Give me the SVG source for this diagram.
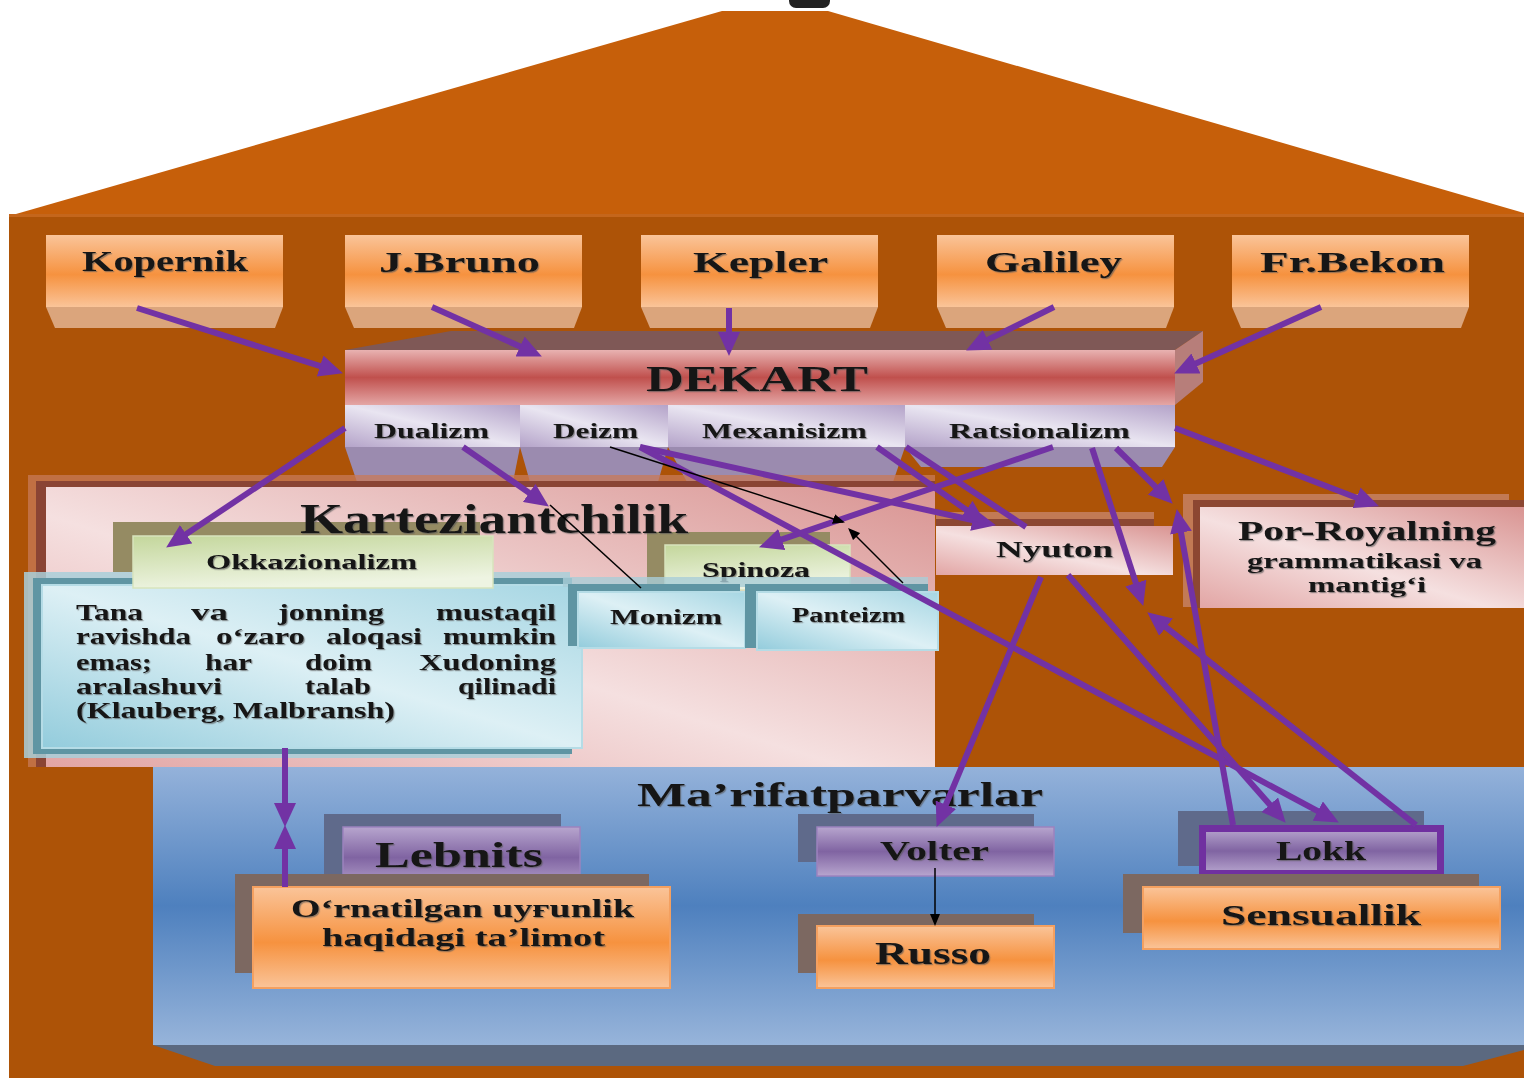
<svg xmlns="http://www.w3.org/2000/svg" width="1524" height="1078" viewBox="0 0 1524 1078">
<defs>
<style>
.t{font-family:"Liberation Serif","DejaVu Serif",serif;font-weight:bold;fill:#141414;text-anchor:middle}
.w{font-family:"Liberation Serif","DejaVu Serif",serif;font-weight:bold;fill:#141414;font-size:23px}
.pc{stroke:#7232A4;stroke-width:6;fill:none}
.bc{stroke:#000;stroke-width:1.5;fill:none}
.sh{filter:url(#ts)}
</style>
<filter id="ts" x="-5%" y="-20%" width="110%" height="140%">
<feDropShadow dx="1.2" dy="1.2" stdDeviation="0.6" flood-color="#555" flood-opacity="0.6"/>
</filter>
<linearGradient id="gOr" x1="0" y1="0" x2="0" y2="1">
<stop offset="0" stop-color="#FAC499"/><stop offset="0.55" stop-color="#F6923F"/><stop offset="1" stop-color="#FAC499"/>
</linearGradient>
<linearGradient id="gRed" x1="0" y1="0" x2="0" y2="1">
<stop offset="0" stop-color="#E8B2B1"/><stop offset="0.5" stop-color="#C0504D"/><stop offset="1" stop-color="#E4A6A5"/>
</linearGradient>
<linearGradient id="gLav" x1="0" y1="1" x2="1" y2="0">
<stop offset="0" stop-color="#B4A3C9"/><stop offset="0.5" stop-color="#E9E5F1"/><stop offset="1" stop-color="#B4A3C9"/>
</linearGradient>
<linearGradient id="gPur" x1="0" y1="0" x2="0" y2="1">
<stop offset="0" stop-color="#B7A5CE"/><stop offset="0.5" stop-color="#8064A2"/><stop offset="1" stop-color="#B7A5CE"/>
</linearGradient>
<linearGradient id="gBl" x1="0" y1="1" x2="1" y2="0">
<stop offset="0" stop-color="#93CCDC"/><stop offset="0.5" stop-color="#DDF0F5"/><stop offset="1" stop-color="#A6D6E3"/>
</linearGradient>
<linearGradient id="gGr" x1="0" y1="0" x2="0.3" y2="1">
<stop offset="0" stop-color="#C4D79C"/><stop offset="1" stop-color="#EEF4E2"/>
</linearGradient>
<linearGradient id="gPk" x1="0" y1="1" x2="1" y2="0">
<stop offset="0" stop-color="#E2A5A4"/><stop offset="0.45" stop-color="#F5E0E0"/><stop offset="1" stop-color="#D99492"/>
</linearGradient>
<linearGradient id="gPanel" x1="0" y1="0" x2="0" y2="1">
<stop offset="0" stop-color="#94B2DA"/><stop offset="0.5" stop-color="#4E80BE"/><stop offset="1" stop-color="#97B4DA"/>
</linearGradient>
<marker id="ap" markerUnits="userSpaceOnUse" markerWidth="24" markerHeight="22" viewBox="0 0 24 22" refX="16" refY="11" orient="auto">
<path d="M0,0 L24,11 L0,22 z" fill="#7232A4"/>
</marker>
<marker id="ab" markerUnits="userSpaceOnUse" markerWidth="12" markerHeight="10" viewBox="0 0 12 10" refX="10" refY="5" orient="auto">
<path d="M0,0 L12,5 L0,10 z" fill="#000"/>
</marker>
</defs>

<rect width="1524" height="1078" fill="#ffffff"/>

<g id="house">
<polygon points="9,216 722,11 828,11 1524,213 1524,216" fill="#C65F0A"/>
<rect x="9" y="215" width="1515" height="863" fill="#AD5307"/>
<rect x="9" y="214" width="1515" height="3" fill="#C4661C"/>
<rect x="789" y="-12" width="41" height="20" rx="7" fill="#222"/>
</g>

<g id="kopernik">
<polygon points="46,307 283,307 275,328 55,328" fill="#DBA57C"/>
<rect x="46" y="235" width="237" height="72" fill="url(#gOr)"/>
<text class="t sh" x="165" y="271" font-size="30" textLength="166" lengthAdjust="spacingAndGlyphs">Kopernik</text>
</g>
<g id="jbruno">
<polygon points="345,307 582,307 574,328 354,328" fill="#DBA57C"/>
<rect x="345" y="235" width="237" height="72" fill="url(#gOr)"/>
<text class="t sh" x="459.5" y="272" font-size="30" textLength="161" lengthAdjust="spacingAndGlyphs">J.Bruno</text>
</g>
<g id="kepler">
<polygon points="641,307 878,307 870,328 650,328" fill="#DBA57C"/>
<rect x="641" y="235" width="237" height="72" fill="url(#gOr)"/>
<text class="t sh" x="760.5" y="272" font-size="30" textLength="135" lengthAdjust="spacingAndGlyphs">Kepler</text>
</g>
<g id="galiley">
<polygon points="937,307 1174,307 1166,328 946,328" fill="#DBA57C"/>
<rect x="937" y="235" width="237" height="72" fill="url(#gOr)"/>
<text class="t sh" x="1053.5" y="272" font-size="30" textLength="137" lengthAdjust="spacingAndGlyphs">Galiley</text>
</g>
<g id="frbekon">
<polygon points="1232,307 1469,307 1461,328 1241,328" fill="#DBA57C"/>
<rect x="1232" y="235" width="237" height="72" fill="url(#gOr)"/>
<text class="t sh" x="1352.5" y="272" font-size="30" textLength="185" lengthAdjust="spacingAndGlyphs">Fr.Bekon</text>
</g>

<g id="dekart">
<polygon points="345,350 451,331 1203,331 1175,350" fill="#7F5856"/>
<polygon points="1175,350 1203,331 1203,382 1175,405" fill="#B77E7A"/>
<rect x="345" y="350" width="830" height="55" fill="url(#gRed)"/>
<text class="t sh" x="757" y="391" font-size="36" textLength="222" lengthAdjust="spacingAndGlyphs">DEKART</text>
</g>
<g id="dualizm">
<polygon points="345,447 520,447 513,482 357,482" fill="#9B8BAF"/>
<rect x="345" y="405" width="175" height="42" fill="url(#gLav)"/>
<text class="t sh" x="431.5" y="438" font-size="22" textLength="115" lengthAdjust="spacingAndGlyphs">Dualizm</text>
</g>
<g id="deizm">
<polygon points="520,447 668,447 658,482 530,482" fill="#9B8BAF"/>
<rect x="520" y="405" width="148" height="42" fill="url(#gLav)"/>
<text class="t sh" x="595.5" y="438" font-size="22" textLength="85" lengthAdjust="spacingAndGlyphs">Deizm</text>
</g>
<g id="mexanisizm">
<polygon points="668,447 905,447 893,482 687,482" fill="#9B8BAF"/>
<rect x="668" y="405" width="237" height="42" fill="url(#gLav)"/>
<text class="t sh" x="784.5" y="438" font-size="22" textLength="165" lengthAdjust="spacingAndGlyphs">Mexanisizm</text>
</g>
<g id="ratsionalizm">
<polygon points="905,447 1175,447 1162,467 921,467" fill="#9B8BAF"/>
<rect x="905" y="405" width="270" height="42" fill="url(#gLav)"/>
<text class="t sh" x="1039.5" y="438" font-size="22" textLength="181" lengthAdjust="spacingAndGlyphs">Ratsionalizm</text>
</g>

<g id="karteziantchilik">
<rect x="28" y="475" width="907" height="292" fill="#C87A58" opacity="0.75"/>
<rect x="36" y="481" width="899" height="286" fill="#8A4434"/>
<rect x="46" y="487" width="889" height="280" fill="url(#gPk)"/>
</g>

<g id="tana">
<rect x="24" y="572" width="546" height="186" fill="#A9CFD9" opacity="0.85"/>
<rect x="33" y="578" width="539" height="176" fill="#5F95A3"/>
<rect x="42" y="585" width="540" height="163" fill="url(#gBl)" stroke="#B5DCE6" stroke-width="2"/>
<text class="w sh" x="76" y="620" textLength="67" lengthAdjust="spacingAndGlyphs">Tana</text>
<text class="w sh" x="191" y="620" textLength="37" lengthAdjust="spacingAndGlyphs">va</text>
<text class="w sh" x="278" y="620" textLength="106" lengthAdjust="spacingAndGlyphs">jonning</text>
<text class="w sh" x="436" y="620" textLength="120" lengthAdjust="spacingAndGlyphs">mustaqil</text>
<text class="w sh" x="76" y="644" textLength="115" lengthAdjust="spacingAndGlyphs">ravishda</text>
<text class="w sh" x="216" y="644" textLength="89" lengthAdjust="spacingAndGlyphs">o‘zaro</text>
<text class="w sh" x="326" y="644" textLength="96" lengthAdjust="spacingAndGlyphs">aloqasi</text>
<text class="w sh" x="443" y="644" textLength="113" lengthAdjust="spacingAndGlyphs">mumkin</text>
<text class="w sh" x="76" y="670" textLength="76" lengthAdjust="spacingAndGlyphs">emas;</text>
<text class="w sh" x="205" y="670" textLength="47" lengthAdjust="spacingAndGlyphs">har</text>
<text class="w sh" x="305" y="670" textLength="67" lengthAdjust="spacingAndGlyphs">doim</text>
<text class="w sh" x="419" y="670" textLength="137" lengthAdjust="spacingAndGlyphs">Xudoning</text>
<text class="w sh" x="76" y="694" textLength="146" lengthAdjust="spacingAndGlyphs">aralashuvi</text>
<text class="w sh" x="305" y="694" textLength="66" lengthAdjust="spacingAndGlyphs">talab</text>
<text class="w sh" x="458" y="694" textLength="98" lengthAdjust="spacingAndGlyphs">qilinadi</text>
<text class="w sh" x="76" y="718" textLength="319" lengthAdjust="spacingAndGlyphs">(Klauberg, Malbransh)</text>
</g>

<g id="okkazionalizm">
<rect x="113" y="522" width="367" height="50" fill="#958B63"/>
<rect x="133" y="536" width="360" height="52" fill="url(#gGr)" stroke="#D7E4BD" stroke-width="1.5"/>
<text class="t sh" x="311.5" y="569" font-size="21" textLength="211" lengthAdjust="spacingAndGlyphs">Okkazionalizm</text>
</g>

<g id="spinoza">
<rect x="647" y="532" width="183" height="58" fill="#958B63"/>
<rect x="665" y="545" width="185" height="45" fill="url(#gGr)" stroke="#D7E4BD" stroke-width="1.5"/>
<text class="t sh" x="756" y="577" font-size="21" textLength="108" lengthAdjust="spacingAndGlyphs">Spinoza</text>
</g>

<g id="karteziantchilik-title">
<text class="t sh" x="494" y="533" font-size="42" textLength="388" lengthAdjust="spacingAndGlyphs">Karteziantchilik</text>
</g>

<g id="monizm">
<rect x="563" y="577" width="365" height="10" fill="#A9CDD7" opacity="0.8"/>
<rect x="568" y="584" width="172" height="62" fill="#5F95A3"/>
<rect x="578" y="592" width="167" height="56" fill="url(#gBl)" stroke="#B5DCE6" stroke-width="2"/>
<text class="t sh" x="666" y="624" font-size="21" textLength="112" lengthAdjust="spacingAndGlyphs">Monizm</text>
</g>
<g id="panteizm">
<rect x="745" y="584" width="183" height="64" fill="#5F95A3"/>
<rect x="757" y="592" width="181" height="58" fill="url(#gBl)" stroke="#B5DCE6" stroke-width="2"/>
<text class="t sh" x="848.5" y="622" font-size="20" textLength="113" lengthAdjust="spacingAndGlyphs">Panteizm</text>
</g>

<g id="nyuton">
<rect x="936" y="512" width="218" height="14" fill="#C27A55"/>
<rect x="936" y="519" width="218" height="8" fill="#8C4732"/>
<rect x="936" y="526" width="237" height="49" fill="url(#gPk)"/>
<text class="t sh" x="1054.5" y="557" font-size="24" textLength="117" lengthAdjust="spacingAndGlyphs">Nyuton</text>
</g>

<g id="porroyal">
<rect x="1183" y="494" width="326" height="113" fill="#C27A55"/>
<rect x="1193" y="500" width="331" height="108" fill="#8C4732"/>
<rect x="1200" y="507" width="324" height="101" fill="url(#gPk)"/>
<text class="t sh" x="1367" y="540" font-size="28" textLength="258" lengthAdjust="spacingAndGlyphs">Por-Royalning</text>
<text class="t sh" x="1364.5" y="568" font-size="20" textLength="235" lengthAdjust="spacingAndGlyphs">grammatikasi va</text>
<text class="t sh" x="1367" y="592" font-size="20" textLength="118" lengthAdjust="spacingAndGlyphs">mantig‘i</text>
</g>

<g id="marifatparvarlar">
<rect x="153" y="767" width="1371" height="278" fill="url(#gPanel)"/>
<polygon points="153,1045 1524,1045 1524,1050 1463,1066 215,1066" fill="#5B6980"/>
<text class="t sh" x="840" y="806" font-size="34" textLength="406" lengthAdjust="spacingAndGlyphs">Ma’rifatparvarlar</text>
</g>

<g id="lebnits">
<rect x="324" y="814" width="237" height="60" fill="#5F6A8B"/>
<rect x="343" y="827" width="237" height="61" fill="url(#gPur)" stroke="#9C82BE" stroke-width="1.5"/>
<text class="t sh" x="459" y="867" font-size="35" textLength="168" lengthAdjust="spacingAndGlyphs">Lebnits</text>
</g>
<g id="uygunlik">
<rect x="235" y="874" width="414" height="99" fill="#7C6861"/>
<rect x="253" y="887" width="417" height="101" fill="url(#gOr)" stroke="#F4A060" stroke-width="2"/>
<text class="t sh" x="462.5" y="917" font-size="25" textLength="343" lengthAdjust="spacingAndGlyphs">O‘rnatilgan uyғunlik</text>
<text class="t sh" x="463.5" y="946" font-size="25" textLength="283" lengthAdjust="spacingAndGlyphs">haqidagi ta’limot</text>
</g>
<g id="volter">
<rect x="798" y="814" width="236" height="48" fill="#5F6A8B"/>
<rect x="817" y="827" width="237" height="49" fill="url(#gPur)" stroke="#9C82BE" stroke-width="1.5"/>
<text class="t sh" x="934.5" y="860" font-size="28" textLength="109" lengthAdjust="spacingAndGlyphs">Volter</text>
</g>
<g id="russo">
<rect x="798" y="914" width="236" height="59" fill="#7C6861"/>
<rect x="817" y="926" width="237" height="62" fill="url(#gOr)" stroke="#F4A060" stroke-width="2"/>
<text class="t sh" x="933" y="964" font-size="32" textLength="116" lengthAdjust="spacingAndGlyphs">Russo</text>
</g>
<g id="lokk">
<rect x="1178" y="811" width="246" height="55" fill="#5F6A8B"/>
<rect x="1202.5" y="828.5" width="238" height="45" fill="url(#gPur)" stroke="#7030A0" stroke-width="7"/>
<text class="t sh" x="1321" y="860" font-size="28" textLength="90" lengthAdjust="spacingAndGlyphs">Lokk</text>
</g>
<g id="sensuallik">
<rect x="1123" y="874" width="356" height="59" fill="#7C6861"/>
<rect x="1143" y="887" width="357" height="62" fill="url(#gOr)" stroke="#F4A060" stroke-width="2"/>
<text class="t sh" x="1321" y="925" font-size="30" textLength="200" lengthAdjust="spacingAndGlyphs">Sensuallik</text>
</g>

<g id="connectors">
<line class="pc" x1="137" y1="308" x2="335.3" y2="370.9" marker-end="url(#ap)"/>
<line class="pc" x1="432" y1="307" x2="534.6" y2="353.1" marker-end="url(#ap)"/>
<line class="pc" x1="729" y1="308" x2="729" y2="348" marker-end="url(#ap)"/>
<line class="pc" x1="1054" y1="307" x2="973.3" y2="346.9" marker-end="url(#ap)"/>
<line class="pc" x1="1321" y1="307" x2="1181.4" y2="370.1" marker-end="url(#ap)"/>
<line class="pc" x1="345" y1="428" x2="172.8" y2="543.1" marker-end="url(#ap)"/>
<line class="pc" x1="463" y1="447" x2="542.3" y2="502" marker-end="url(#ap)"/>
<line class="pc" x1="640" y1="447" x2="988.2" y2="523.5" marker-end="url(#ap)"/>
<line class="pc" x1="877" y1="447" x2="979.3" y2="519" marker-end="url(#ap)"/>
<line class="pc" x1="906" y1="447" x2="1026" y2="527"/>
<line class="pc" x1="640" y1="447" x2="1331.8" y2="818.7" marker-end="url(#ap)"/>
<line class="pc" x1="1068" y1="575" x2="1280.4" y2="816.7" marker-end="url(#ap)"/>
<line class="pc" x1="1041" y1="577" x2="939.7" y2="819.5" marker-end="url(#ap)"/>
<line class="pc" x1="1053" y1="447" x2="766.6" y2="544.7" marker-end="url(#ap)"/>
<line class="pc" x1="1092" y1="448" x2="1140.8" y2="598.3" marker-end="url(#ap)"/>
<line class="pc" x1="1116" y1="448" x2="1167" y2="498.1" marker-end="url(#ap)"/>
<line class="pc" x1="1175" y1="428" x2="1371.5" y2="503.5" marker-end="url(#ap)"/>
<line class="pc" x1="1233" y1="825" x2="1178.2" y2="516.9" marker-end="url(#ap)"/>
<line class="pc" x1="1416" y1="825" x2="1153.5" y2="617.3" marker-end="url(#ap)"/>
<line class="pc" x1="285" y1="748" x2="285" y2="819" marker-end="url(#ap)"/>
<line class="pc" x1="285" y1="887" x2="285" y2="833" marker-end="url(#ap)"/>
<line class="bc" x1="610" y1="447" x2="843" y2="522" marker-end="url(#ab)"/>
<line class="bc" x1="903" y1="583" x2="849.5" y2="529.5" marker-end="url(#ab)"/>
<line class="bc" x1="550" y1="505" x2="641" y2="588"/>
<line class="bc" x1="935" y1="868" x2="935" y2="924" marker-end="url(#ab)"/>
</g>
</svg>
